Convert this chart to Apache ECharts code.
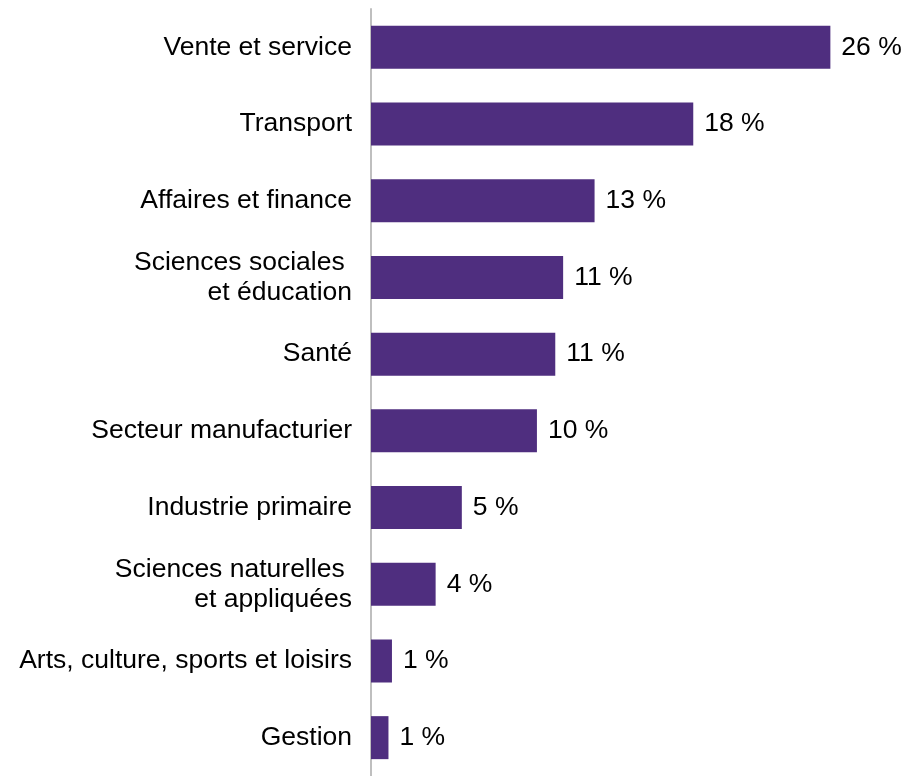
<!DOCTYPE html>
<html>
<head>
<meta charset="utf-8">
<script src="https://cdn.jsdelivr.net/npm/echarts@6/dist/echarts.min.js"></script>
<style>
  html, body { margin: 0; padding: 0; background: #ffffff; }
  #chart { width: 921px; height: 776px; }
</style>
</head>
<body>
<div id="chart"></div>
<script>
// Occupational groups, top to bottom
const categories = [
  'Vente et service',
  'Transport',
  'Affaires et finance',
  'Sciences sociales \net éducation',
  'Santé',
  'Secteur manufacturier',
  'Industrie primaire',
  'Sciences naturelles \net appliquées',
  'Arts, culture, sports et loisirs',
  'Gestion'
];

// Share of each group, in percent (labels show the rounded value)
const shares = [26.3, 18.45, 12.8, 11.0, 10.55, 9.5, 5.2, 3.7, 1.2, 1.0];

const FONT = 'Liberation Sans, Arial, sans-serif';

const chart = echarts.init(document.getElementById('chart'));
chart.setOption({
  animation: false,
  backgroundColor: '#ffffff',
  grid: { left: 371, top: 9, width: 524, height: 775, containLabel: false },
  xAxis: {
    type: 'value',
    min: 0,
    max: 30,
    show: false,
    splitLine: { show: false }
  },
  yAxis: {
    type: 'category',
    data: categories,
    inverse: true,
    axisLine: { show: true, lineStyle: { color: '#bfbfbf', width: 2 } },
    axisTick: { show: false },
    axisLabel: {
      margin: 19,
      color: '#000000',
      fontFamily: FONT,
      fontSize: 26.5,
      lineHeight: 30,
      align: 'right',
      padding: [6, 0, 0, 0]
    }
  },
  series: [{
    type: 'bar',
    data: shares,
    barWidth: 43,
    itemStyle: { color: '#4f2e7f' },
    label: {
      show: true,
      position: 'right',
      distance: 11,
      color: '#000000',
      fontFamily: FONT,
      fontSize: 26.5,
      padding: [5, 0, 0, 0],
      formatter: p => Math.round(p.value) + ' %'
    }
  }]
});
</script>
</body>
</html>
